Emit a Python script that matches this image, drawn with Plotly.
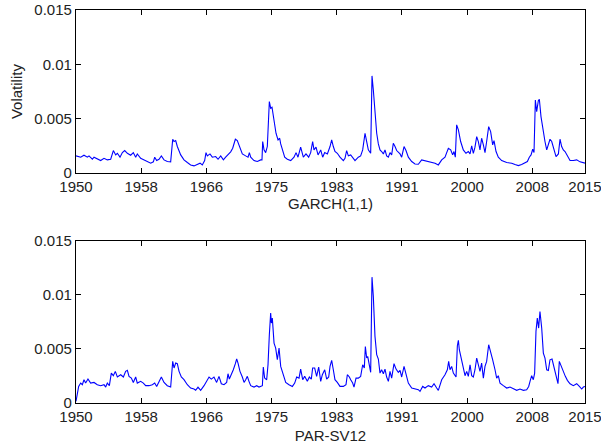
import plotly.graph_objects as go

# ---- data (volatility in units of 1e-3) ----
garch_year = [1950.00, 1950.60, 1951.02, 1951.45, 1951.66, 1952.09, 1952.30, 1952.72, 1953.15, 1953.58,
              1954.00, 1954.43, 1954.77, 1955.07, 1955.28, 1955.62, 1955.92, 1956.22, 1956.56, 1956.98,
              1957.32, 1957.62, 1957.83, 1958.26, 1958.68, 1959.11, 1959.54, 1959.88, 1960.05, 1960.30,
              1960.60, 1960.90, 1961.24, 1961.66, 1962.09, 1962.35, 1962.52, 1962.73, 1962.94, 1963.37,
              1963.79, 1964.22, 1964.64, 1965.07, 1965.50, 1965.84, 1966.13, 1966.43, 1966.60, 1966.77,
              1967.11, 1967.41, 1967.84, 1968.14, 1968.48, 1968.82, 1969.11, 1969.41, 1969.75, 1970.01,
              1970.35, 1970.60, 1970.86, 1971.24, 1971.67, 1971.97, 1972.14, 1972.31, 1972.73, 1973.16,
              1973.58, 1973.75, 1973.84, 1974.01, 1974.22, 1974.43, 1974.69, 1974.86, 1975.03, 1975.29,
              1975.54, 1975.80, 1976.01, 1976.14, 1976.39, 1976.65, 1976.99, 1977.42, 1977.84, 1978.10,
              1978.35, 1978.69, 1979.03, 1979.37, 1979.71, 1979.97, 1980.22, 1980.39, 1980.65, 1980.91,
              1981.25, 1981.50, 1981.76, 1982.10,
              1982.44, 1982.65, 1982.86, 1983.07, 1983.37, 1983.71, 1984.14, 1984.35, 1984.56, 1984.78,
              1985.08, 1985.42, 1985.63, 1986.05, 1986.35, 1986.61, 1986.91, 1987.12, 1987.33, 1987.63,
              1987.80, 1987.97, 1988.18, 1988.40, 1988.61, 1988.82, 1989.03, 1989.25, 1989.46, 1989.67,
              1989.89, 1990.10, 1990.31, 1990.52, 1990.74, 1990.95, 1991.38, 1991.59, 1991.89, 1992.14,
              1992.44, 1992.87, 1993.29, 1993.72, 1994.14, 1994.57, 1994.99, 1995.42, 1995.85, 1996.27,
              1996.70, 1997.12, 1997.55, 1997.85, 1998.10, 1998.27, 1998.44, 1998.61, 1998.83, 1999.12,
              1999.46, 1999.80, 2000.10, 2000.32, 2000.53, 2000.74, 2000.95, 2001.17, 2001.38, 2001.59,
              2001.80, 2002.02, 2002.23, 2002.44, 2002.70, 2002.95, 2003.21, 2003.38, 2003.64, 2003.93,
              2004.36, 2005.00, 2005.64, 2006.06, 2006.49, 2006.91, 2007.34, 2007.64, 2007.89, 2008.11,
              2008.32, 2008.49, 2008.66, 2008.83, 2009.04, 2009.17, 2009.38, 2009.68, 2009.89, 2010.11,
              2010.32, 2010.53, 2010.75, 2010.96, 2011.30, 2011.60, 2011.81, 2012.02, 2012.23, 2012.45,
              2012.75, 2013.09, 2013.51, 2013.94, 2014.36, 2014.79, 2015.00]
garch_vol = [1.59, 1.47, 1.65, 1.47, 1.59, 1.28, 1.47, 1.28, 1.16, 1.37,
             1.22, 1.28, 2.08, 1.68, 1.83, 1.47, 1.89, 2.08, 1.83, 1.65,
             1.89, 1.47, 1.77, 1.37, 1.22, 1.07, 0.92, 1.04, 1.47, 1.16,
             1.28, 1.59, 1.22, 1.07, 1.04, 3.12, 2.91, 3.00, 2.45, 1.68,
             1.22, 0.98, 0.76, 0.67, 0.82, 0.92, 0.76, 1.16, 1.89, 1.59,
             1.77, 1.47, 1.53, 1.28, 1.59, 1.22, 1.47, 1.68, 1.96, 2.29,
             3.12, 3.00, 2.51, 1.77, 1.59, 1.47, 1.89, 1.47, 1.16, 1.07,
             1.22, 1.22, 2.91, 2.14, 1.89, 2.45, 6.58, 5.97, 6.06, 4.59,
             3.67, 3.06, 3.21, 2.69, 1.99, 1.47, 1.28, 1.16, 1.47, 1.89,
             1.47, 2.39, 1.47, 1.77, 1.47, 1.89, 2.91, 2.14, 2.39, 1.68,
             2.14, 1.47, 1.89, 1.77,
             2.45, 3.06, 2.45, 1.99, 1.83, 1.47, 1.16, 1.37, 2.08, 1.59,
             1.68, 1.37, 1.16, 1.47, 1.59, 2.14, 3.67, 2.91, 2.14, 1.83,
             8.94, 7.65, 5.20, 3.67, 2.69, 2.14, 1.99, 1.77, 2.14, 1.59,
             1.47, 1.89, 1.68, 2.75, 2.45, 2.08, 1.77, 1.47, 2.45, 2.08,
             1.47, 1.07, 0.85, 0.82, 1.22, 1.16, 1.07, 0.98, 0.92, 0.76,
             1.22, 1.47, 2.29, 2.14, 1.68, 1.99, 1.47, 4.44, 3.98, 2.91,
             2.14, 1.83, 1.99, 1.77, 2.51, 1.83, 2.39, 3.36, 2.91, 2.14,
             3.21, 2.60, 1.89, 2.91, 4.28, 3.82, 2.60, 3.00, 1.99, 1.47,
             1.16, 0.98, 0.92, 0.79, 0.70, 0.79, 0.98, 1.07, 1.47, 1.68,
             2.20, 1.89, 6.73, 5.66, 6.67, 6.79, 5.20, 3.67, 2.91, 2.14,
             2.75, 3.12, 2.91, 2.29, 1.53, 1.77, 3.12, 2.45, 2.14, 1.99,
             1.53, 1.16, 1.16, 1.22, 1.04, 0.92, 0.92]

parsv_year = [1950.00, 1950.17, 1950.34, 1950.60, 1950.81, 1951.02, 1951.23, 1951.53, 1951.87, 1952.30,
              1952.72, 1953.15, 1953.58, 1953.79, 1954.00, 1954.26, 1954.51, 1954.77, 1955.02, 1955.28,
              1955.71, 1956.05, 1956.34, 1956.56, 1956.77, 1957.07, 1957.32, 1957.62, 1957.83, 1958.26,
              1958.60, 1958.90, 1959.32, 1959.75, 1960.05, 1960.30, 1960.60, 1960.90, 1961.24, 1961.66,
              1962.09, 1962.35, 1962.52, 1962.73, 1962.94, 1963.16, 1963.45, 1963.79, 1964.22, 1964.64,
              1965.07, 1965.28, 1965.58, 1965.92, 1966.35, 1966.69, 1966.99, 1967.28, 1967.62, 1967.96,
              1968.26, 1968.56, 1968.90, 1969.24, 1969.41, 1969.58, 1969.75, 1970.09, 1970.35, 1970.52,
              1970.69, 1970.94, 1971.24, 1971.46, 1971.67, 1971.88, 1972.09, 1972.31, 1972.73, 1973.07,
              1973.37, 1973.80, 1973.92, 1974.09, 1974.35, 1974.52, 1974.69, 1974.86, 1974.95, 1975.07,
              1975.29, 1975.50, 1975.71, 1975.93, 1976.14, 1976.48, 1976.78, 1977.20, 1977.63, 1977.93,
              1978.18, 1978.48, 1978.69, 1978.95, 1979.20, 1979.54, 1979.80, 1980.05, 1980.22, 1980.48,
              1980.73, 1980.99, 1981.25, 1981.46, 1981.76, 1982.01, 1982.27,
              1982.44, 1982.65, 1982.86, 1983.07, 1983.37, 1983.71, 1984.14, 1984.48, 1984.65, 1984.91,
              1985.08, 1985.33, 1985.50, 1985.76, 1986.05, 1986.35, 1986.61, 1986.82, 1986.95, 1987.12,
              1987.25, 1987.46, 1987.63, 1987.80, 1987.97, 1988.18, 1988.40, 1988.61, 1988.82, 1989.03,
              1989.25, 1989.46, 1989.67, 1989.89, 1990.10, 1990.31, 1990.61, 1990.87, 1991.16, 1991.38,
              1991.59, 1991.89, 1992.14, 1992.44, 1992.87, 1993.29, 1993.72, 1993.93, 1994.27, 1994.57,
              1994.99, 1995.42, 1995.72, 1996.06, 1996.27, 1996.70, 1997.12, 1997.42, 1997.59, 1997.76,
              1997.97, 1998.19, 1998.53, 1998.70, 1998.83, 1998.95, 1999.25, 1999.46, 1999.68, 1999.89,
              2000.10, 2000.32, 2000.53, 2000.74, 2000.95, 2001.17, 2001.38, 2001.59, 2001.80, 2002.02,
              2002.23, 2002.44, 2002.70, 2002.95, 2003.21, 2003.51, 2003.72, 2003.93, 2004.15, 2004.57,
              2005.00, 2005.42, 2005.85, 2006.28, 2006.70, 2007.13, 2007.55, 2007.81, 2007.98, 2008.19,
              2008.40, 2008.57, 2008.74, 2008.91, 2009.08, 2009.25, 2009.47, 2009.68, 2009.89, 2010.11,
              2010.32, 2010.53, 2010.79, 2011.04, 2011.30, 2011.55, 2011.72, 2011.98, 2012.23, 2012.49,
              2012.75, 2013.09, 2013.51, 2013.94, 2014.28, 2014.58, 2014.79, 2015.00]
parsv_vol = [0.15, 0.77, 1.53, 1.84, 1.69, 2.15, 1.84, 2.21, 1.84, 1.90,
             1.69, 1.60, 1.69, 1.47, 1.84, 1.60, 2.76, 2.52, 2.92, 2.40,
             2.61, 2.40, 2.92, 3.01, 2.46, 2.30, 1.90, 2.40, 1.84, 2.00,
             1.84, 1.60, 1.60, 1.69, 1.84, 1.53, 1.90, 2.40, 1.90, 1.60,
             1.47, 3.84, 3.23, 3.69, 3.63, 2.92, 2.40, 2.15, 1.69, 1.38,
             1.29, 1.17, 1.47, 1.17, 1.60, 2.00, 2.40, 2.21, 2.40, 1.90,
             2.46, 1.78, 1.69, 1.90, 2.70, 2.21, 2.46, 3.07, 3.63, 4.06,
             3.69, 2.92, 2.40, 1.90, 2.15, 2.46, 2.00, 1.60, 1.47, 1.60,
             1.47, 1.60, 3.32, 2.30, 2.15, 3.53, 6.30, 8.30, 7.38, 7.84,
             5.53, 5.07, 3.99, 5.07, 3.38, 2.61, 1.90, 1.69, 1.53, 1.84,
             2.40, 2.30, 3.13, 2.15, 2.46, 2.00, 2.40, 2.21, 3.23, 3.23,
             2.46, 3.32, 2.00, 2.61, 3.07, 2.21, 2.40,
             3.38, 3.93, 3.07, 2.15, 1.90, 1.53, 1.53, 1.69, 2.61, 2.40,
             2.15, 1.84, 1.47, 2.30, 2.30, 2.46, 3.53, 3.23, 5.22, 4.15,
             4.30, 3.38, 2.83, 11.62, 9.84, 6.15, 4.46, 4.06, 2.76, 3.07,
             2.70, 3.13, 2.40, 2.00, 2.92, 2.30, 3.63, 3.13, 2.83, 3.01,
             2.40, 3.38, 2.76, 1.84, 1.38, 1.29, 1.23, 1.07, 1.53, 1.38,
             1.60, 1.47, 1.78, 1.38, 1.17, 2.15, 2.61, 3.07, 3.84, 3.07,
             3.38, 2.76, 2.40, 5.29, 5.78, 4.92, 3.84, 3.23, 2.52, 2.92,
             2.46, 3.53, 2.52, 2.40, 3.07, 4.15, 3.38, 2.92, 3.69, 2.30,
             3.38, 3.84, 5.38, 4.76, 3.99, 3.07, 2.30, 2.52, 1.84, 1.60,
             1.38, 1.47, 1.29, 1.17, 1.29, 1.17, 1.23, 1.53, 2.00, 2.52,
             2.15, 2.76, 6.61, 7.84, 6.92, 8.45, 6.92, 4.61, 4.15, 3.07,
             3.01, 3.99, 4.06, 3.38, 2.46, 1.78, 3.84, 3.38, 2.76, 2.46,
             2.09, 1.78, 1.60, 1.78, 1.53, 1.29, 1.47, 1.53]

x_tick_pos = [1950, 1958.32, 1966.65, 1974.97, 1983.3, 1991.62, 1999.95, 2008.27, 2015]
x_tick_labels = ["1950", "1958", "1966", "1975", "1983", "1991", "2000", "2008", "2015"]
y_tick_vals = [0, 0.005, 0.01, 0.015]
y_tick_labels = ["0", "0.005", "0.01", "0.015"]
panel_titles = ["GARCH(1,1)", "PAR-SV12"]
y_title = "Volatility"

FONT = "Liberation Sans, Arial, sans-serif"
BLUE = "#0000ff"

fig = go.Figure()
fig.add_trace(go.Scatter(x=garch_year, y=[v * 1e-3 for v in garch_vol], mode="lines",
                         line=dict(color=BLUE, width=1.1), xaxis="x", yaxis="y", showlegend=False))
fig.add_trace(go.Scatter(x=parsv_year, y=[v * 1e-3 for v in parsv_vol], mode="lines",
                         line=dict(color=BLUE, width=1.1), xaxis="x2", yaxis="y2", showlegend=False))

common = dict(showline=True, linecolor="black", linewidth=1.3, mirror="ticks",
              ticks="inside", ticklen=5, tickcolor="black", tickwidth=1,
              showgrid=False, zeroline=False, ticklabeloverflow="allow", automargin=False,
              tickfont=dict(family=FONT, size=15, color="#222222"))

xcommon = dict(common, range=[1950, 2015], tickmode="array",
               tickvals=x_tick_pos, ticktext=x_tick_labels)
ycommon = dict(common, range=[0, 0.015], tickmode="array",
               tickvals=y_tick_vals, ticktext=y_tick_labels)

fig.update_layout(
    width=601, height=444,
    margin=dict(l=76, r=16, t=10, b=41, autoexpand=False),
    paper_bgcolor="white", plot_bgcolor="white",
    font=dict(family=FONT, size=15, color="#222222"),
    xaxis=dict(xcommon, domain=[0, 1], anchor="y",
               title=dict(text=panel_titles[0], standoff=4, font=dict(family=FONT, size=15))),
    yaxis=dict(ycommon, domain=[0.5848, 1], anchor="x",
               title=dict(text=y_title, standoff=8, font=dict(family=FONT, size=15))),
    xaxis2=dict(xcommon, domain=[0, 1], anchor="y2",
                title=dict(text=panel_titles[1], standoff=7, font=dict(family=FONT, size=15))),
    yaxis2=dict(ycommon, domain=[0, 0.4134], anchor="x2"),
)

fig.write_html("out.html")
